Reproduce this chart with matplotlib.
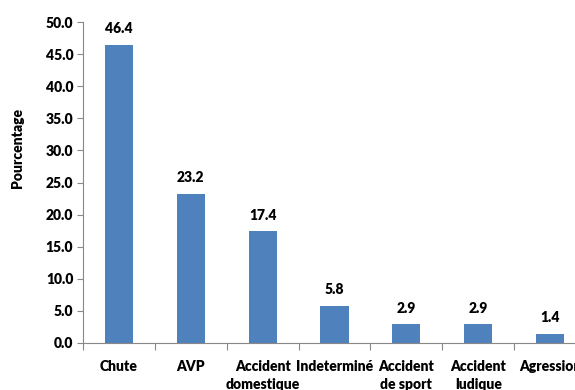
import matplotlib
matplotlib.use("Agg")
import matplotlib.pyplot as plt

categories = ["Chute", "AVP", "Accident\ndomestique", "Indeterminé",
              "Accident\nde sport", "Accident\nludique", "Agression"]
values = [46.4, 23.2, 17.4, 5.8, 2.9, 2.9, 1.4]
yticks = [0, 5, 10, 15, 20, 25, 30, 35, 40, 45, 50]

plt.rcParams['font.family'] = ['Lato', 'DejaVu Sans']
fs = 10
fw = 'heavy'

fig = plt.figure(figsize=(5.75, 3.9), dpi=100)
ax = fig.add_axes([83/575, 47/390, 503/575, 321/390])

x = list(range(len(categories)))
ax.bar(x, values, width=0.39, color="#4f81bd", zorder=2)
ax.set_xlim(-0.5, len(categories) - 0.5)
ax.set_ylim(0, 50)
ax.set_yticks(yticks)
ax.set_yticklabels([f"{v:.1f}" for v in yticks], fontsize=fs, fontweight=fw)

ax.set_xticks(x)
ax.set_xticklabels(categories, fontsize=fs, fontweight=fw, linespacing=1.5, va='top')
ax.tick_params(axis='x', length=0, pad=12)
ax.set_xticks([i + 0.5 for i in range(-1, len(categories))], minor=True)
ax.tick_params(axis='x', which='minor', length=5, color='#888888', width=0.8)
ax.tick_params(axis='y', length=4, color='#888888', width=0.8, pad=3)

for s in ['top', 'right']:
    ax.spines[s].set_visible(False)
for s in ['left', 'bottom']:
    ax.spines[s].set_color('#888888')
    ax.spines[s].set_linewidth(0.8)

for xi, v in zip(x, values):
    ax.annotate(f"{v:.1f}", (xi, v), xytext=(0, 7), textcoords='offset points',
                ha='center', va='bottom', fontsize=fs, fontweight=fw)

fig.text(18/575, 1 - 148/390, "Pourcentage", rotation=90, ha='center', va='center',
         fontsize=fs, fontweight=fw)

fig.savefig("out.png", dpi=100)
